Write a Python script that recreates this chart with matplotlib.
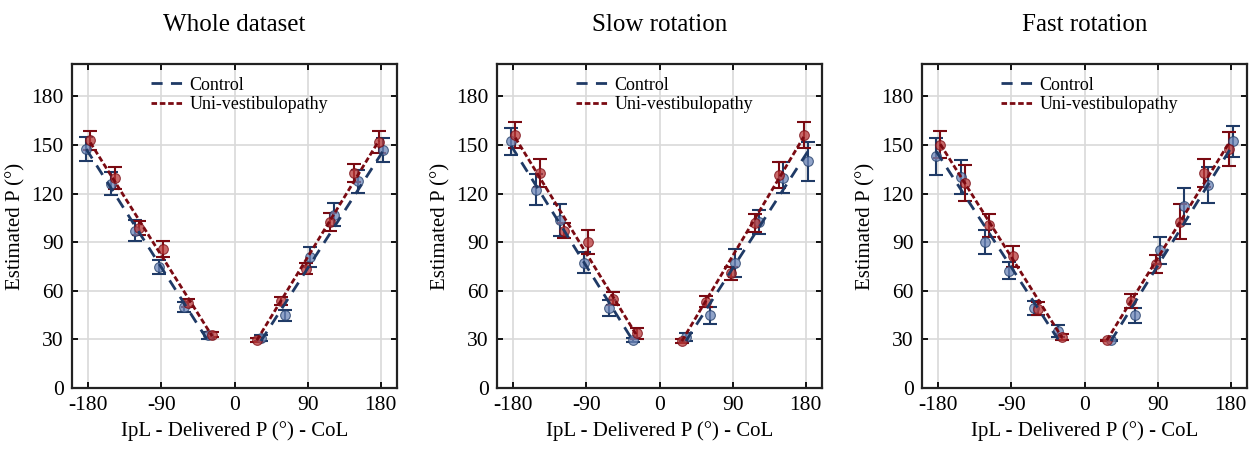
import matplotlib
matplotlib.use("Agg")
import matplotlib.pyplot as plt
import numpy as np
from matplotlib.lines import Line2D

plt.rcParams['font.family'] = ['Liberation Serif', 'DejaVu Serif']
plt.rcParams['mathtext.fontset'] = 'stix'
plt.rcParams['axes.unicode_minus'] = False

titles = ["Whole dataset", "Slow rotation", "Fast rotation"]
angles = [-180, -150, -120, -90, -60, -30, 30, 60, 90, 120, 150, 180]
xticks = [-180, -90, 0, 90, 180]
yticks = [0, 30, 60, 90, 120, 150, 180]

# Whole dataset
whole_ctrl_mean = [147.5, 126.2, 97.2, 74.8, 50.1, 32.5, 31.0, 44.8, 81.0, 107.0, 127.6, 146.7]
whole_ctrl_err = [7.5, 7.0, 6.5, 4.5, 3.0, 2.0, 2.0, 3.5, 6.0, 7.0, 7.0, 7.5]
whole_uni_mean = [152.9, 129.7, 98.8, 85.9, 52.6, 32.9, 29.6, 53.6, 73.6, 102.5, 132.7, 151.8]
whole_uni_err = [6.0, 7.0, 4.5, 5.0, 2.5, 1.5, 1.0, 2.5, 3.5, 5.5, 5.5, 7.0]
whole_ctrl_fit = [147.5, 29.0, 29.0, 146.0]
whole_uni_fit = [151.5, 32.0, 29.5, 152.5]

# Slow rotation
slow_ctrl_mean = [152.3, 122.5, 103.6, 77.3, 49.5, 29.6, 31.6, 44.8, 77.3, 102.5, 129.7, 139.9]
slow_ctrl_err = [8.5, 9.5, 10.0, 6.5, 5.0, 1.0, 2.5, 5.5, 8.5, 7.5, 9.5, 12.0]
slow_uni_mean = [156.4, 132.7, 97.2, 90.0, 55.0, 33.7, 29.0, 53.2, 70.7, 101.9, 131.7, 156.4]
slow_uni_err = [8.0, 8.5, 4.5, 7.5, 4.0, 3.5, 1.0, 3.5, 3.8, 5.7, 8.0, 8.0]
slow_ctrl_fit = [149.5, 29.0, 29.0, 146.0]
slow_uni_fit = [154.5, 32.0, 29.0, 155.0]

# Fast rotation
fast_ctrl_mean = [143.0, 130.3, 90.0, 72.5, 49.5, 35.1, 29.4, 44.8, 85.1, 112.2, 125.5, 152.3]
fast_ctrl_err = [11.6, 10.5, 7.5, 5.3, 4.4, 3.5, 0.5, 4.6, 8.4, 11.0, 11.0, 9.5]
fast_uni_mean = [150.2, 126.6, 100.5, 81.4, 48.9, 31.6, 29.4, 53.6, 76.8, 102.5, 132.7, 147.5]
fast_uni_err = [8.4, 11.0, 7.2, 6.4, 4.1, 2.0, 0.5, 4.4, 5.6, 10.8, 8.6, 10.5]
fast_ctrl_fit = [146.0, 30.0, 29.0, 150.0]
fast_uni_fit = [150.5, 31.0, 29.5, 151.0]

ctrl_means = [whole_ctrl_mean, slow_ctrl_mean, fast_ctrl_mean]
ctrl_errs = [whole_ctrl_err, slow_ctrl_err, fast_ctrl_err]
uni_means = [whole_uni_mean, slow_uni_mean, fast_uni_mean]
uni_errs = [whole_uni_err, slow_uni_err, fast_uni_err]
ctrl_fits = [whole_ctrl_fit, slow_ctrl_fit, fast_ctrl_fit]
uni_fits = [whole_uni_fit, slow_uni_fit, fast_uni_fit]

ctrl_line = '#1f3a66'
ctrl_face = '#6d86b8'
uni_line = '#7a0a12'
uni_face = '#b83a3a'

fig = plt.figure(figsize=(12.57, 4.51), dpi=100)
lefts = [72 / 1257, 497 / 1257, 922 / 1257]
w = 325 / 1257
b = 1 - 388 / 451
h = (388 - 64) / 451

ang = np.array(angles, dtype=float)
sgn = np.sign(ang)
x_ctrl = ang + 2.5 * sgn
x_uni = ang - 2.5 * sgn
fit_idx = [0, 5, 6, 11]

for i in range(3):
    ax = fig.add_axes([lefts[i], b, w, h])
    ax.set_xlim(-200, 200)
    ax.set_ylim(0, 200)
    ax.set_xticks(xticks)
    ax.set_yticks(yticks)
    ax.grid(True, color='#d9d9d9', linewidth=1.2)
    ax.set_axisbelow(True)
    ax.tick_params(direction='in', top=True, right=True, length=4, width=1.3,
                   labelsize=15.5, pad=6)
    for s in ax.spines.values():
        s.set_linewidth(1.6)
        s.set_color('#222222')

    cm = np.array(ctrl_means[i]); ce = np.array(ctrl_errs[i])
    um = np.array(uni_means[i]); ue = np.array(uni_errs[i])

    ax.errorbar(x_ctrl, cm, yerr=ce, fmt='none', ecolor=ctrl_line, elinewidth=1.5,
                capsize=5, capthick=1.5, zorder=3)
    ax.plot(x_ctrl, cm, 'o', ms=7, mfc=ctrl_face, mec=ctrl_line, mew=0.8, alpha=0.75,
            zorder=4, linestyle='none')
    ax.errorbar(x_uni, um, yerr=ue, fmt='none', ecolor=uni_line, elinewidth=1.5,
                capsize=5, capthick=1.5, zorder=3)
    ax.plot(x_uni, um, 'o', ms=7, mfc=uni_face, mec=uni_line, mew=0.8, alpha=0.75,
            zorder=4, linestyle='none')

    cf = ctrl_fits[i]; uf = uni_fits[i]
    xc = x_ctrl[fit_idx]; xu = x_uni[fit_idx]
    ax.plot(xc[:2], cf[:2], color=ctrl_line, lw=2, dashes=(4, 3), zorder=5)
    ax.plot(xc[2:], cf[2:], color=ctrl_line, lw=2, dashes=(4, 3), zorder=5)
    ax.plot(xu[:2], uf[:2], color=uni_line, lw=2, dashes=(2, 1), zorder=5)
    ax.plot(xu[2:], uf[2:], color=uni_line, lw=2, dashes=(2, 1), zorder=5)

    handles = [Line2D([], [], color=ctrl_line, lw=2, dashes=(4, 3)),
               Line2D([], [], color=uni_line, lw=2, dashes=(2, 1))]
    ax.legend(handles, ['Control', 'Uni-vestibulopathy'], loc='upper left',
              bbox_to_anchor=(0.205, 1.0), frameon=False, fontsize=13,
              handlelength=1.7, handletextpad=0.4, labelspacing=0.15,
              borderaxespad=0.3)

    ax.set_title(titles[i], fontsize=18, pad=24)
    ax.set_xlabel('IpL - Delivered P (°) - CoL', fontsize=15, labelpad=4)
    ax.set_ylabel('Estimated P (°)', fontsize=15, labelpad=4)

fig.savefig('out.png', dpi=100)
